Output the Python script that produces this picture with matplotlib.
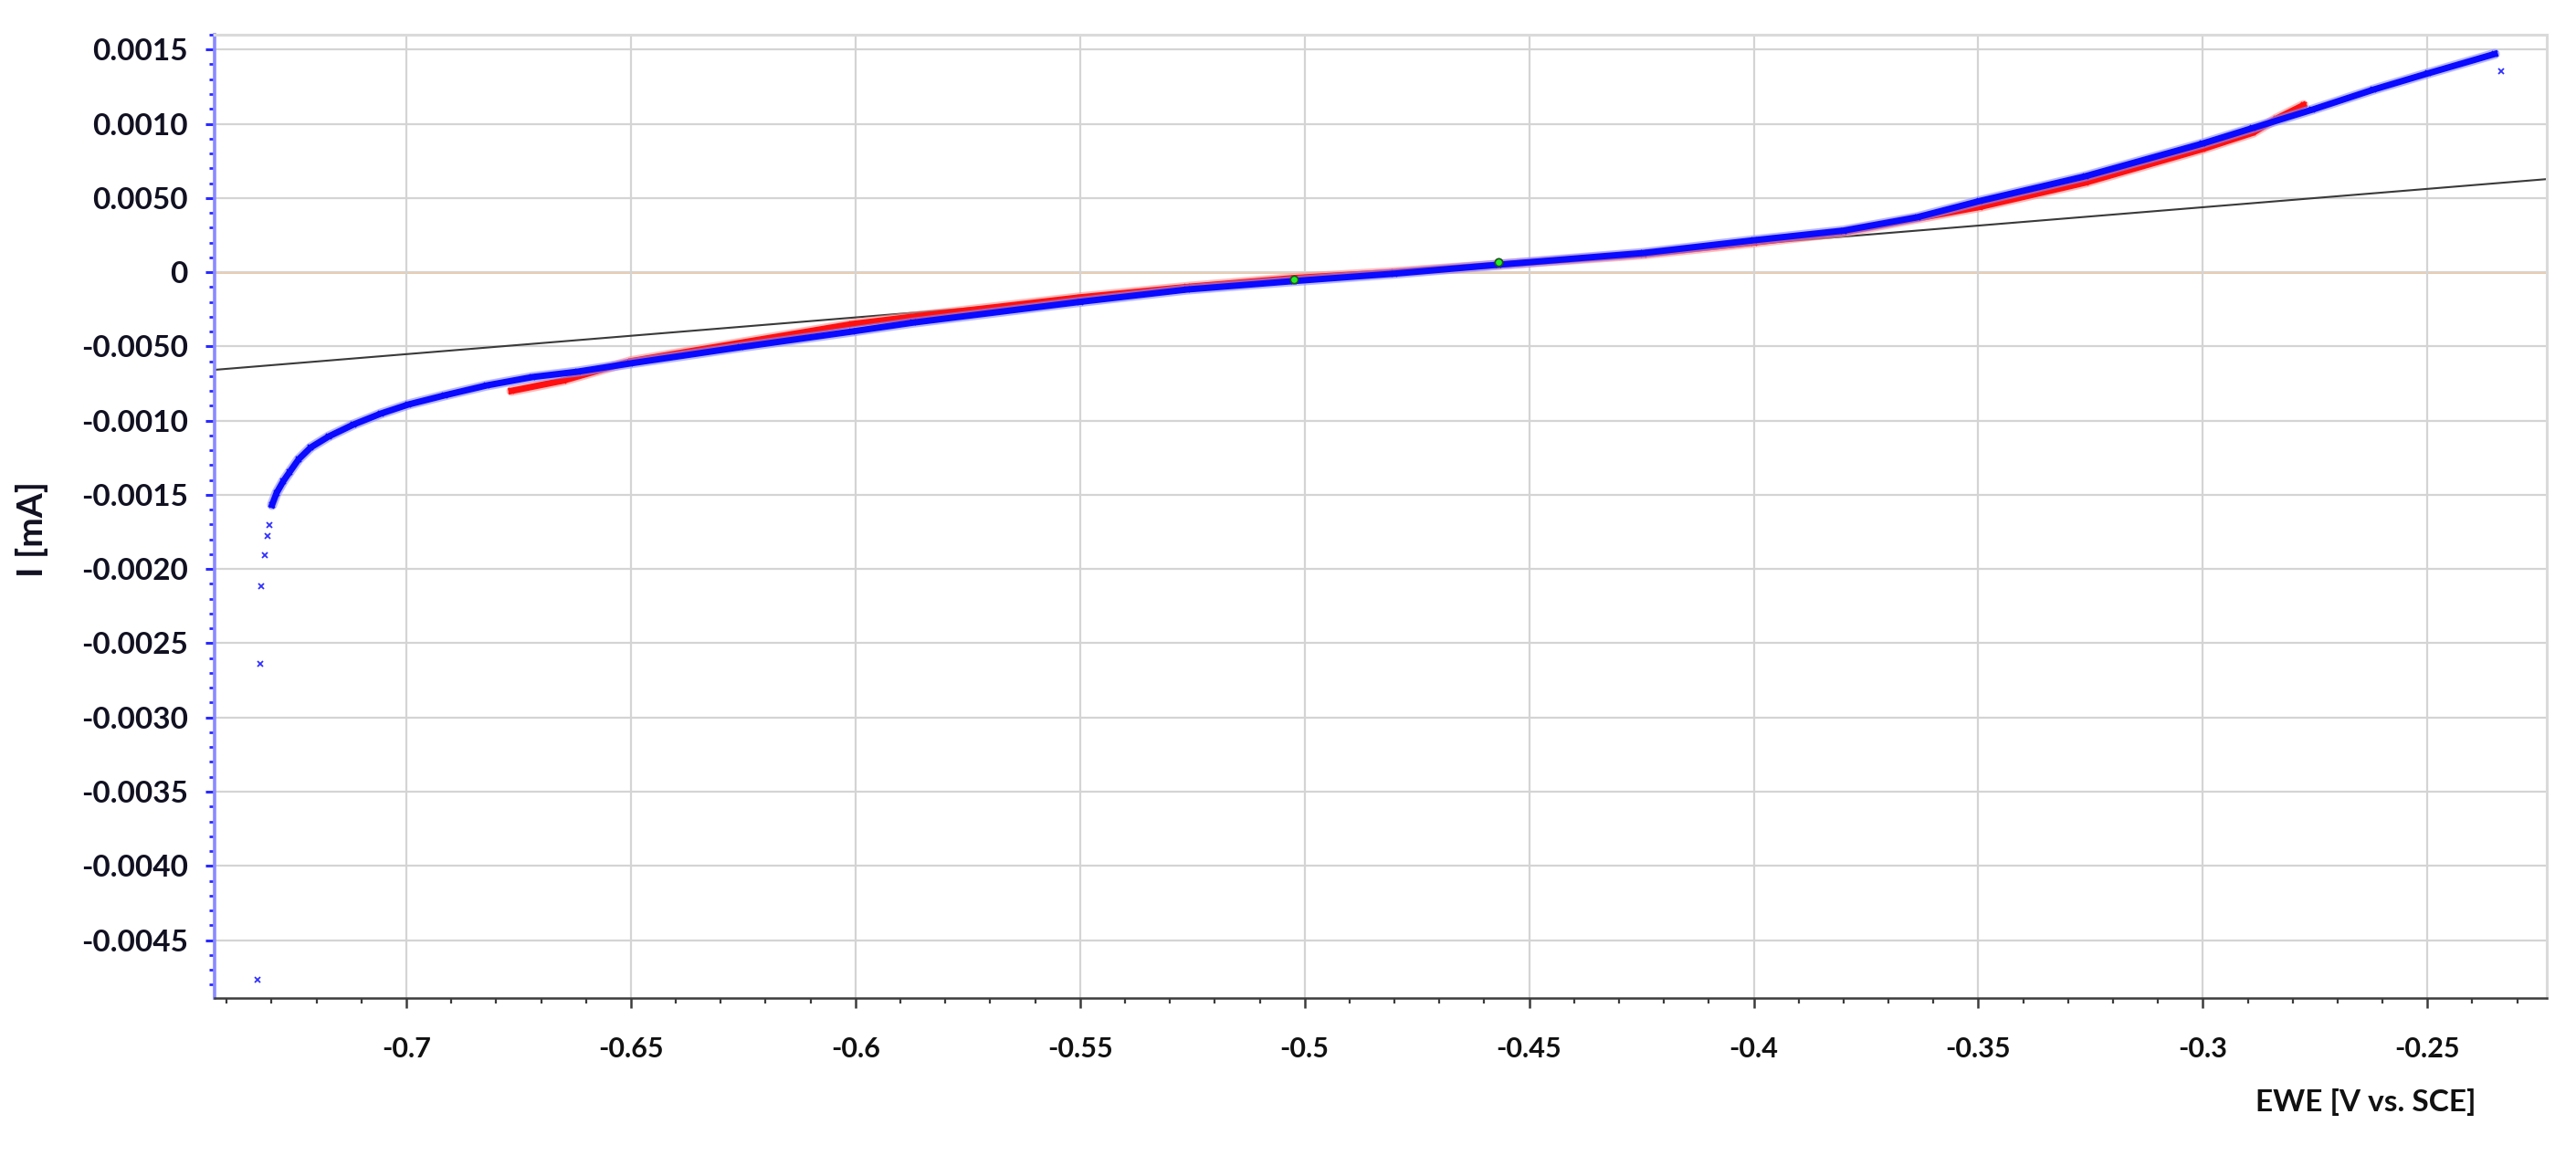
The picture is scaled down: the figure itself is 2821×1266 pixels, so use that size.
import numpy as np
import matplotlib
matplotlib.use("Agg")
import matplotlib.pyplot as plt
from matplotlib.ticker import FixedLocator, MultipleLocator, FixedFormatter

plt.rcParams['font.family'] = ['Lato', 'DejaVu Sans']
plt.rcParams['axes.unicode_minus'] = False

# blue scan: isolated points at the cathodic tail, then the dense band
blue_tail_x = [-0.7331, -0.7325, -0.7323, -0.7315, -0.7309, -0.7305, -0.2335]
blue_tail_y = [-0.004766, -0.002638, -0.002116, -0.001907, -0.001777, -0.001704, 0.001353]

blue_x = [-0.7299, -0.7289, -0.7274, -0.7260, -0.7240, -0.7213, -0.7173, -0.7118,
          -0.7057, -0.6996, -0.6915, -0.6821, -0.6720, -0.6618, -0.6502, -0.6255,
          -0.6008, -0.5872, -0.5500, -0.5262, -0.5024, -0.4800, -0.4569, -0.4246,
          -0.4000, -0.3800, -0.3636, -0.3496, -0.3262, -0.3000, -0.2888, -0.2756,
          -0.2620, -0.2498, -0.2350]
blue_y = [-0.001568, -0.001488, -0.001408, -0.001347, -0.001261, -0.001181, -0.001107, -0.001027,
          -0.000953, -0.000892, -0.000830, -0.000763, -0.000707, -0.000670, -0.000615, -0.000505,
          -0.000400, -0.000340, -0.000200, -0.000117, -0.000060, -0.000010, 0.000050, 0.000129,
          0.000215, 0.000280, 0.000370, 0.000480, 0.000646, 0.000867, 0.000972, 0.001095,
          0.001230, 0.001340, 0.001470]

# red scan
red_x = [-0.6766, -0.6650, -0.6500, -0.6008, -0.5872, -0.5500, -0.5262, -0.5024,
         -0.4800, -0.4569, -0.4246, -0.4000, -0.3800, -0.3496, -0.3262, -0.3000,
         -0.2888, -0.2837, -0.2776]
red_y = [-0.000800, -0.000730, -0.000600, -0.000350, -0.000300, -0.000170, -0.000100, -0.000040,
         0.000000, 0.000050, 0.000120, 0.000200, 0.000270, 0.000440, 0.000603, 0.000830,
         0.000940, 0.001033, 0.001125]

# linear fit and the two fit points
fit_x = [-0.7427, -0.2234]
fit_y = [-0.000658, 0.000627]
pts_x = [-0.5024, -0.4569]
pts_y = [-0.0000492, 0.0000677]

x_ticks = [-0.7, -0.65, -0.6, -0.55, -0.5, -0.45, -0.4, -0.35, -0.3, -0.25]
x_labels = ['-0.7', '-0.65', '-0.6', '-0.55', '-0.5', '-0.45', '-0.4', '-0.35', '-0.3', '-0.25']
y_ticks = [-0.0045, -0.0040, -0.0035, -0.0030, -0.0025, -0.0020, -0.0015, -0.0010,
           -0.0005, 0.0, 0.0005, 0.0010, 0.0015]
y_labels = ['-0.0045', '-0.0040', '-0.0035', '-0.0030', '-0.0025', '-0.0020', '-0.0015', '-0.0010',
            '-0.0050', '0', '0.0050', '0.0010', '0.0015']

fig = plt.figure(figsize=(28.21, 12.66), dpi=100)
ax = fig.add_axes([0.0833, 0.1367, 0.9054, 0.8333])

ax.set_xlim(-0.7427, -0.2234)
ax.set_ylim(-0.00489, 0.0016)

ax.grid(True, which='major', color='#d4d4d4', lw=1.6, zorder=0)
ax.axhline(0, color='#ffb36b', lw=1.8, zorder=1)

ax.plot(fit_x, fit_y, color='#3a3a3a', lw=1.5, zorder=2)
# soft halo + core to mimic the dense cloud of x markers
ax.plot(red_x, red_y, color='#ff9090', lw=8, alpha=0.6, solid_capstyle='round', zorder=3)
ax.plot(red_x, red_y, color='#ff1010', lw=5, marker='x', ms=5, mew=1.3, zorder=3)
ax.plot(blue_x, blue_y, color='#8a8aff', lw=8, alpha=0.6, solid_capstyle='round', zorder=4)
ax.plot(blue_x, blue_y, color='#0a0aff', lw=5, marker='x', ms=5, mew=1.3, zorder=4)
ax.plot(blue_tail_x, blue_tail_y, ls='none', color='#3030ff', marker='x', ms=5, mew=1.3, zorder=4)
ax.plot(pts_x, pts_y, ls='none', marker='o', ms=6, mfc='#22ee22', mec='#205020', mew=1.2, zorder=5)

ax.xaxis.set_major_locator(FixedLocator(x_ticks))
ax.xaxis.set_major_formatter(FixedFormatter(x_labels))
ax.xaxis.set_minor_locator(MultipleLocator(0.01))
ax.yaxis.set_major_locator(FixedLocator(y_ticks))
ax.yaxis.set_major_formatter(FixedFormatter(y_labels))
ax.yaxis.set_minor_locator(MultipleLocator(0.0001))

for side in ['top', 'right']:
    ax.spines[side].set_color('#dadada')
    ax.spines[side].set_linewidth(2.2)
ax.spines['bottom'].set_color('#3c3c3c')
ax.spines['bottom'].set_linewidth(1.8)
ax.spines['left'].set_color('#8a8aff')
ax.spines['left'].set_linewidth(2.6)

ax.tick_params(axis='x', which='major', length=8, width=1.8, color='#3c3c3c',
               labelsize=22, pad=22, labelcolor='#111111')
ax.tick_params(axis='x', which='minor', length=4, width=1.6, color='#3c3c3c')
ax.tick_params(axis='y', which='major', length=7, width=2.2, color='#2a2aff',
               labelsize=24, pad=14, labelcolor='#111122')
ax.tick_params(axis='y', which='minor', length=4, width=2.0, color='#2a2aff')
for lbl in ax.get_xticklabels() + ax.get_yticklabels():
    lbl.set_fontweight('bold')

fig.text(35 / 2821, 1 - 580 / 1266, 'I [mA]', rotation=90, ha='center', va='center',
         fontsize=28, fontweight='bold', color='#111122')
fig.text(2712 / 2821, 1 - 1207 / 1266, 'EWE [V vs. SCE]', ha='right', va='center',
         fontsize=24, fontweight='bold', color='#111111')

fig.savefig('out.png', dpi=100)
